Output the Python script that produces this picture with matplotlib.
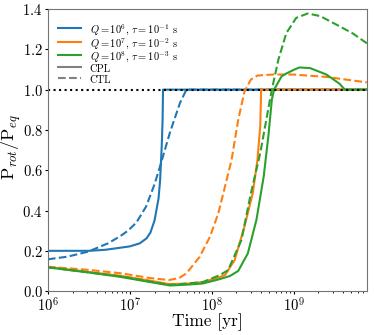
import matplotlib
matplotlib.use("Agg")
import matplotlib.pyplot as plt
from matplotlib.lines import Line2D

plt.rcParams['font.family'] = 'serif'
plt.rcParams['font.serif'] = ['cmr10']
plt.rcParams['mathtext.fontset'] = 'cm'
plt.rcParams['axes.unicode_minus'] = False
plt.rcParams['axes.formatter.use_mathtext'] = True

# time [yr] and P_rot/P_eq
t_blue_cpl = [1e6, 3.2e6, 5e6, 1e7, 1.32e7, 1.6e7, 1.78e7, 2.0e7, 2.24e7, 2.34e7, 2.45e7, 2.51e7, 2.54e7, 7.8e9]
p_blue_cpl = [0.200, 0.200, 0.205, 0.222, 0.237, 0.262, 0.29, 0.35, 0.46, 0.55, 0.72, 0.85, 1.0, 1.0]

t_blue_ctl = [1e6, 1.74e6, 3.1e6, 5.4e6, 7.6e6, 9.5e6, 1.2e7, 1.58e7, 2.0e7, 2.34e7, 3.1e7, 4.1e7, 4.9e7, 7.8e9]
p_blue_ctl = [0.158, 0.171, 0.196, 0.237, 0.272, 0.30, 0.34, 0.42, 0.53, 0.62, 0.79, 0.935, 1.0, 1.0]

t_orange_cpl = [1e6, 3.2e6, 8e6, 1.6e7, 3.0e7, 5e7, 7.8e7, 1.26e8, 1.45e8, 1.9e8, 2.5e8, 3.16e8, 3.6e8, 3.9e8, 4.0e8, 7.8e9]
p_orange_cpl = [0.12, 0.095, 0.075, 0.055, 0.035, 0.037, 0.045, 0.07, 0.08, 0.154, 0.32, 0.486, 0.65, 0.82, 1.0, 1.0]

t_orange_ctl = [1e6, 3.2e6, 8e6, 1.74e7, 3.0e7, 4e7, 4.9e7, 7.1e7, 9.5e7, 1.2e8, 1.41e8, 1.74e8, 2.1e8, 2.5e8, 3.0e8, 3.6e8, 5.6e8, 9.8e8, 2.5e9, 7.8e9]
p_orange_ctl = [0.121, 0.105, 0.088, 0.065, 0.055, 0.065, 0.088, 0.17, 0.27, 0.386, 0.50, 0.65, 0.85, 0.99, 1.05, 1.07, 1.075, 1.075, 1.063, 1.036]

t_green_cpl = [1e6, 3.2e6, 7.6e6, 1.6e7, 3.1e7, 5e7, 7.8e7, 1.26e8, 1.66e8, 2.1e8, 2.75e8, 3.5e8, 4.3e8, 4.9e8, 5.4e8, 5.75e8, 7.1e8, 8.1e8, 1.02e9, 1.17e9, 1.58e9, 2.5e9, 3.6e9, 4.2e9, 7.8e9]
p_green_cpl = [0.118, 0.092, 0.071, 0.048, 0.028, 0.032, 0.038, 0.06, 0.075, 0.10, 0.187, 0.353, 0.57, 0.77, 0.95, 1.0, 1.066, 1.08, 1.10, 1.11, 1.107, 1.075, 1.03, 1.0, 1.0]

t_green_ctl = [1e6, 7.9e6, 3.1e7, 7.8e7, 1.26e8, 1.58e8, 2.3e8, 3.0e8, 3.9e8, 4.7e8, 5.4e8, 6.5e8, 8.1e8, 1.07e9, 1.48e9, 2.1e9, 3.3e9, 5.2e9, 7.8e9]
p_green_ctl = [0.118, 0.073, 0.03, 0.045, 0.08, 0.104, 0.254, 0.486, 0.685, 0.867, 1.0, 1.15, 1.28, 1.356, 1.378, 1.365, 1.323, 1.28, 1.23]

labels = [r'$Q=10^6$, $\tau=10^{-1}$ s',
          r'$Q=10^7$, $\tau=10^{-2}$ s',
          r'$Q=10^8$, $\tau=10^{-3}$ s']
colors = ['#1f77b4', '#ff7f0e', '#2ca02c']

fig = plt.figure(figsize=(3.74, 3.35), dpi=100)
ax = fig.add_axes([0.128, 0.131, 0.853, 0.842])

cpl = [(t_blue_cpl, p_blue_cpl), (t_orange_cpl, p_orange_cpl), (t_green_cpl, p_green_cpl)]
ctl = [(t_blue_ctl, p_blue_ctl), (t_orange_ctl, p_orange_ctl), (t_green_ctl, p_green_ctl)]
for (tc, pc), (td, pd), c in zip(cpl, ctl, colors):
    ax.plot(tc, pc, '-', color=c, lw=1.5)
    ax.plot(td, pd, '--', color=c, lw=1.5)

ax.axhline(1.0, color='k', ls=':', lw=1.5)

ax.set_xscale('log')
ax.set_xlim(1e6, 7.8e9)
ax.set_ylim(0, 1.4)
ax.set_xlabel('Time [yr]', fontsize=12.5)
ax.set_ylabel(r'$\mathrm{P}_{rot}/\mathrm{P}_{eq}$', fontsize=13)
ax.xaxis.set_label_coords(0.5, -0.078)
ax.yaxis.set_label_coords(-0.078, 0.51)
ax.tick_params(labelsize=10.5, pad=1.2, length=2.5)
ax.tick_params(which='minor', length=1.5)
for s in ax.spines.values():
    s.set_color('0.45')

handles = [Line2D([], [], color=c, lw=1.5) for c in colors]
handles += [Line2D([], [], color='gray', lw=1.5, ls='-'),
            Line2D([], [], color='gray', lw=1.5, ls='--')]
ax.legend(handles, labels + ['CPL', 'CTL'], loc='upper left', bbox_to_anchor=(0, 0.99),
          fontsize=7.5, frameon=False, borderaxespad=0.6, labelspacing=-0.15,
          handleheight=1.45, handlelength=2.2)

fig.savefig('out.png', dpi=100)
